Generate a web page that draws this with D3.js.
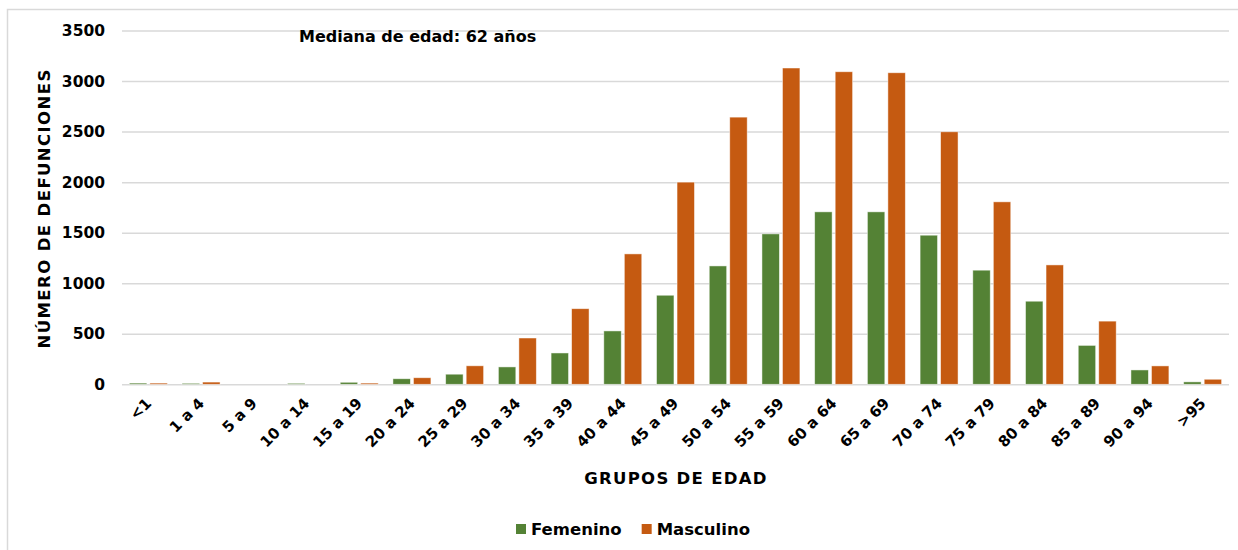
<!DOCTYPE html>
<html>
<head>
<meta charset="utf-8">
<script src="https://cdn.jsdelivr.net/npm/d3@7"></script>
<style>
    body { margin: 0; background: #fff; }
    svg text { font-family: 'DejaVu Sans', sans-serif; font-weight: bold; fill: #000; }
</style>
</head>
<body>
<div id="chart"></div>
<script>
// grupos de edad
const grupos = ['<1', '1 a 4', '5 a 9', '10 a 14', '15 a 19', '20 a 24', '25 a 29', '30 a 34',
    '35 a 39', '40 a 44', '45 a 49', '50 a 54', '55 a 59', '60 a 64', '65 a 69', '70 a 74',
    '75 a 79', '80 a 84', '85 a 89', '90 a 94', '>95'];

const femenino = [12, 10, 0, 10, 20, 55, 100, 172, 310, 528, 881, 1171, 1488, 1706, 1706, 1475,
    1129, 822, 385, 142, 24];
const masculino = [12, 22, 0, 0, 12, 65, 183, 458, 748, 1290, 2000, 2643, 3129, 3092, 3082, 2498,
    1805, 1181, 625, 182, 50];

const yTicks = [0, 500, 1000, 1500, 2000, 2500, 3000, 3500];

const series = [
    { key: 'Femenino', values: femenino, color: '#548235' },
    { key: 'Masculino', values: masculino, color: '#C55A11' }
];

const W = 1238, H = 550;
const plot = { left: 122, right: 1229, top: 30.5, bottom: 384.3 };

let svg = d3.select('#chart').append('svg')
    .attr('width', W)
    .attr('height', H);

// marco del gráfico
svg.append('rect')
    .attr('x', 7.5).attr('y', 9.5)
    .attr('width', W + 20).attr('height', H + 20)
    .attr('fill', 'none')
    .attr('stroke', '#d9d9d9')
    .attr('stroke-width', 1.5);

const xScale = d3.scaleBand().domain(grupos).range([plot.left, plot.right])
    .paddingInner(0.28).paddingOuter(0.14);
const xInner = d3.scaleBand().domain(series.map(s => s.key)).range([0, xScale.bandwidth()])
    .paddingInner(0.15);
const yScale = d3.scaleLinear().domain([0, 3500]).range([plot.bottom, plot.top]);

// líneas de cuadrícula
let grid = svg.append('g')
    .attr('transform', 'translate(' + plot.left + ',0)')
    .call(d3.axisLeft(yScale).tickValues(yTicks).tickSize(-(plot.right - plot.left)).tickFormat(''));
grid.select('.domain').remove();
grid.selectAll('line').attr('stroke', '#d9d9d9').attr('stroke-width', 1.5);

// etiquetas del eje y
let yAxis = svg.append('g')
    .attr('transform', 'translate(' + plot.left + ',0)')
    .call(d3.axisLeft(yScale).tickValues(yTicks).tickSize(0).tickPadding(17).tickFormat(d3.format('d')));
yAxis.select('.domain').remove();
yAxis.selectAll('text').style('font-size', '15.5px');

// barras
series.forEach(function (s) {
    svg.append('g').selectAll('rect')
        .data(s.values)
        .enter().append('rect')
        .attr('x', (d, i) => xScale(grupos[i]) + xInner(s.key))
        .attr('width', xInner.bandwidth())
        .attr('y', d => yScale(d))
        .attr('height', d => yScale(0) - yScale(d))
        .attr('fill', s.color)
        .attr('stroke', '#fff')
        .attr('stroke-opacity', 0.6)
        .attr('stroke-width', 0.8);
});

// etiquetas del eje x
let xAxis = svg.append('g')
    .attr('transform', 'translate(0,' + plot.bottom + ')')
    .call(d3.axisBottom(xScale).tickSize(0).tickPadding(0));
xAxis.select('.domain').remove();
xAxis.selectAll('text')
    .style('font-size', '15px')
    .style('text-anchor', 'end')
    .attr('dy', null)
    .attr('y', null)
    .attr('transform', 'translate(4,20) rotate(-45)');

// títulos
svg.append('text')
    .attr('transform', 'translate(50,' + ((plot.top + plot.bottom) / 2 + 1) + ') rotate(-90)')
    .attr('text-anchor', 'middle')
    .style('font-size', '16.5px')
    .style('letter-spacing', '1.4px')
    .text('NÚMERO DE DEFUNCIONES');

svg.append('text')
    .attr('x', 676)
    .attr('y', 484)
    .attr('text-anchor', 'middle')
    .style('font-size', '16.5px')
    .style('letter-spacing', '1.3px')
    .text('GRUPOS DE EDAD');

svg.append('text')
    .attr('x', 299)
    .attr('y', 42)
    .style('font-size', '16px')
    .text('Mediana de edad: 62 años');

// leyenda
let legend = svg.append('g').attr('transform', 'translate(516,524)');
let lx = 0;
series.forEach(function (s) {
    let item = legend.append('g').attr('transform', 'translate(' + lx + ',0)');
    item.append('rect').attr('width', 10).attr('height', 10).attr('fill', s.color);
    let t = item.append('text').attr('x', 15).attr('y', 10.5).style('font-size', '16.5px').text(s.key);
    lx += 15 + t.node().getComputedTextLength() + 20;
});
</script>
</body>
</html>
